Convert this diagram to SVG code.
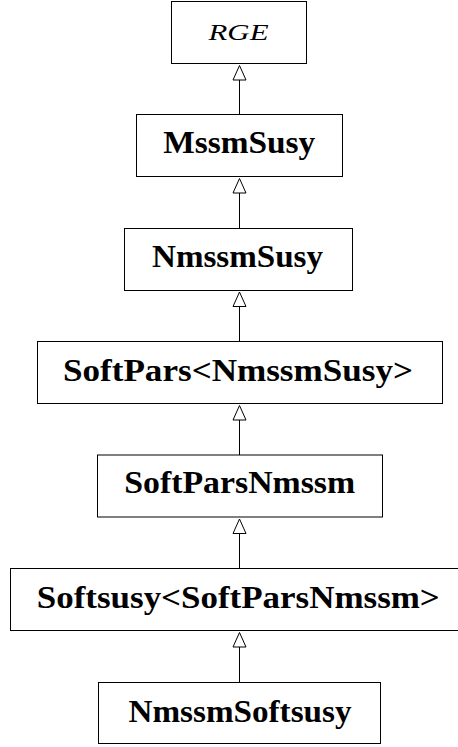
<svg xmlns="http://www.w3.org/2000/svg" width="458" height="747" viewBox="0 0 458 747">
  <style>
    .box { fill: #ffffff; stroke: #000000; stroke-width: 1; }
    .lbl { font-family: "Liberation Serif", "Times New Roman", serif; font-weight: bold; font-size: 31px; fill: #000000; text-anchor: middle; }
    .ital { font-family: "Liberation Serif", "Times New Roman", serif; font-style: italic; font-size: 23px; fill: #000000; text-anchor: middle; }
    .edge { stroke: #000000; stroke-width: 1; fill: none; }
    .head { fill: #ffffff; stroke: #000000; stroke-width: 1; }
  </style>
  <rect width="458" height="747" fill="#ffffff"/>

  <!-- inheritance connectors: child box up to parent box, hollow triangle at parent -->
  <g id="connectors">
    <line class="edge" x1="239.5" y1="80" x2="239.5" y2="114.5"/>
    <polygon class="head" points="239.5,65.5 233,80 246,80"/>
    <line class="edge" x1="239.5" y1="193" x2="239.5" y2="228.5"/>
    <polygon class="head" points="239.5,178.5 233,193 246,193"/>
    <line class="edge" x1="239.5" y1="306.5" x2="239.5" y2="341.5"/>
    <polygon class="head" points="239.5,292 233,306.5 246,306.5"/>
    <line class="edge" x1="239.5" y1="420" x2="239.5" y2="455"/>
    <polygon class="head" points="239.5,405.5 233,420 246,420"/>
    <line class="edge" x1="239.5" y1="533.5" x2="239.5" y2="568.5"/>
    <polygon class="head" points="239.5,519 233,533.5 246,533.5"/>
    <line class="edge" x1="239.5" y1="647" x2="239.5" y2="682.5"/>
    <polygon class="head" points="239.5,632.5 233,647 246,647"/>
  </g>

  <g id="RGE">
    <rect class="box" x="171.5" y="1.5" width="135" height="62"/>
    <text class="ital" x="238.5" y="40" textLength="60" lengthAdjust="spacingAndGlyphs">RGE</text>
  </g>
  <g id="MssmSusy">
    <rect class="box" x="136.5" y="114.5" width="206" height="62"/>
    <text class="lbl" x="239.2" y="153.3" textLength="152" lengthAdjust="spacingAndGlyphs">MssmSusy</text>
  </g>
  <g id="NmssmSusy">
    <rect class="box" x="124.5" y="228.5" width="228" height="62"/>
    <text class="lbl" x="237.5" y="266.7" textLength="171" lengthAdjust="spacingAndGlyphs">NmssmSusy</text>
  </g>
  <g id="SoftPars_NmssmSusy">
    <rect class="box" x="37.5" y="341.5" width="405" height="62"/>
    <text class="lbl" x="238" y="380.5" textLength="350" lengthAdjust="spacingAndGlyphs">SoftPars&lt;NmssmSusy&gt;</text>
  </g>
  <g id="SoftParsNmssm">
    <rect class="box" x="97.5" y="455" width="285" height="62"/>
    <text class="lbl" x="239.7" y="493.3" textLength="231" lengthAdjust="spacingAndGlyphs">SoftParsNmssm</text>
  </g>
  <g id="Softsusy_SoftParsNmssm">
    <rect class="box" x="10.5" y="568.5" width="458" height="62"/>
    <text class="lbl" x="238.3" y="608" textLength="403" lengthAdjust="spacingAndGlyphs">Softsusy&lt;SoftParsNmssm&gt;</text>
  </g>
  <g id="NmssmSoftsusy">
    <rect class="box" x="98.5" y="682.5" width="282" height="61"/>
    <text class="lbl" x="240" y="721.5" textLength="223" lengthAdjust="spacingAndGlyphs">NmssmSoftsusy</text>
  </g>
</svg>
